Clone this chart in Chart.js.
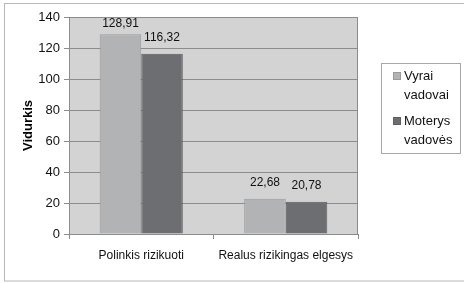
<!DOCTYPE html>
<html>
<head>
<meta charset="utf-8">
<script src="https://cdn.jsdelivr.net/npm/chart.js@4"></script>
<style>
  html, body { margin: 0; padding: 0; background: #fff; }
  #wrap { width: 464px; height: 283px; }
</style>
</head>
<body>
<div id="wrap"><canvas id="c" width="464" height="283"></canvas></div>
<script>
const categories = ['Polinkis rizikuoti', 'Realus rizikingas elgesys'];
const seriesNames = ['Vyrai vadovai', 'Moterys vadovės'];
const menValues = [128.91, 22.68];
const womenValues = [116.32, 20.78];
const yTicks = [0, 20, 40, 60, 80, 100, 120, 140];
const yTitle = 'Vidurkis';

const FONT = '"Liberation Sans", Arial, sans-serif';

const bgPlugin = {
  id: 'bg',
  beforeDraw(chart) {
    const ctx = chart.ctx, a = chart.chartArea;
    ctx.save();
    ctx.fillStyle = '#fff';
    ctx.fillRect(0, 0, chart.width, chart.height);
    ctx.strokeStyle = '#b8b8b8';
    ctx.lineWidth = 1;
    ctx.strokeRect(4.5, 3.5, chart.width + 10, 277.5);
    ctx.fillStyle = '#d3d3d3';
    ctx.fillRect(a.left, a.top, a.right - a.left, a.bottom - a.top);
    ctx.strokeStyle = '#8c8c8c';
    ctx.beginPath();
    ctx.moveTo(Math.round(a.right) - 0.5, a.top);
    ctx.lineTo(Math.round(a.right) - 0.5, a.bottom);
    ctx.stroke();
    ctx.restore();
  }
};

const labelPlugin = {
  id: 'vals',
  afterDatasetsDraw(chart) {
    const ctx = chart.ctx;
    ctx.save();
    ctx.font = '12px ' + FONT;
    ctx.fillStyle = '#111';
    ctx.textAlign = 'center';
    ctx.textBaseline = 'bottom';
    chart.data.datasets.forEach((ds, i) => {
      chart.getDatasetMeta(i).data.forEach((el, j) => {
        const txt = ds.data[j].toFixed(2).replace('.', ',');
        ctx.fillText(txt, el.x, Math.max(el.y - 10, 30));
      });
    });
    ctx.restore();
  }
};

const legendPlugin = {
  id: 'customLegend',
  afterDraw(chart) {
    const ctx = chart.ctx, a = chart.chartArea;
    const bx = Math.round(a.right) + 23, by = 63;
    ctx.save();
    ctx.fillStyle = '#fff';
    ctx.fillRect(bx, by, 79, 90);
    ctx.strokeStyle = '#a8a8a8';
    ctx.lineWidth = 1;
    ctx.strokeRect(bx + 0.5, by + 0.5, 79, 90);
    ctx.font = '13px ' + FONT;
    ctx.textBaseline = 'middle';
    ctx.textAlign = 'left';
    chart.data.datasets.forEach((ds, i) => {
      const y0 = by + 13 + i * 45;
      ctx.fillStyle = ds.backgroundColor;
      ctx.fillRect(bx + 12, y0 - 4, 8, 8);
      ctx.strokeStyle = ds.borderColor;
      ctx.strokeRect(bx + 12.5, y0 - 3.5, 7, 7);
      ctx.fillStyle = '#111';
      const words = ds.label.split(' ');
      words.forEach((w, k) => ctx.fillText(w, bx + 23, y0 + k * 19));
    });
    ctx.restore();
  }
};

new Chart(document.getElementById('c'), {
  type: 'bar',
  data: {
    labels: categories,
    datasets: [
      { label: seriesNames[0], data: menValues, backgroundColor: '#b2b3b5', borderColor: '#9a9a9a', borderWidth: 1 },
      { label: seriesNames[1], data: womenValues, backgroundColor: '#6d6e71', borderColor: '#5e5f61', borderWidth: 1 }
    ]
  },
  options: {
    responsive: false,
    animation: false,
    devicePixelRatio: 1,
    layout: { padding: { left: 4, right: 106, top: 17, bottom: 9 } },
    datasets: { bar: { barPercentage: 1, categoryPercentage: 0.575 } },
    plugins: { legend: { display: false }, tooltip: { enabled: false } },
    scales: {
      x: {
        afterFit(s) { s.height = 40; },
        grid: { drawOnChartArea: false, drawTicks: true, tickLength: 5, color: '#8c8c8c', offset: true },
        border: { display: true, color: '#8c8c8c' },
        ticks: { font: { family: FONT, size: 12 }, color: '#111', padding: 9 }
      },
      y: {
        min: 0, max: 140,
        afterFit(s) { s.width = 65; },
        afterBuildTicks(s) { s.ticks = yTicks.map(v => ({ value: v })); },
        grid: { color: '#8c8c8c', tickLength: 5 },
        border: { display: true, color: '#8c8c8c' },
        ticks: { font: { family: FONT, size: 13 }, color: '#111', padding: 4 },
        title: { display: true, text: yTitle, font: { family: FONT, size: 13, weight: 'bold' }, color: '#000', padding: { top: 17, bottom: 0 } }
      }
    }
  },
  plugins: [bgPlugin, labelPlugin, legendPlugin]
});
</script>
</body>
</html>
